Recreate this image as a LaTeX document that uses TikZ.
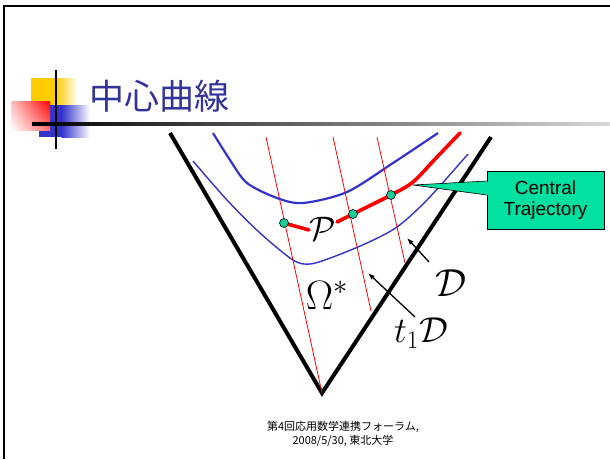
\RequirePackage{fix-cm}
\documentclass[tikz,border=0pt]{standalone}
\usepackage{amsmath,amssymb}
\usepackage{fontspec}
\setmainfont{Liberation Sans}
\newfontfamily\jpfont{Noto Sans CJK JP}
\usetikzlibrary{arrows.meta, positioning, calc, shadings}
\definecolor{titleblue}{HTML}{333399}
\definecolor{logoyellow}{HTML}{FFCC00}
\definecolor{logoblue}{HTML}{3333CC}
\definecolor{logored}{HTML}{FF0000}
\definecolor{levelblue}{HTML}{3333CC}
\definecolor{trajred}{HTML}{FF0000}
\definecolor{dotgreen}{HTML}{1ACC99}
\definecolor{calloutgreen}{HTML}{00E0A0}
\tikzset{
  >={Latex[length=2.4mm,width=1.8mm]},
  conewall/.style={line width=4pt, draw=black},
  levelset/.style={line width=2.2pt, draw=levelblue},
  levelsetthin/.style={line width=1.4pt, draw=levelblue},
  fibre/.style={line width=0.8pt, draw=trajred},
  trajectory/.style={line width=3.6pt, draw=trajred, line cap=round},
  pathdot/.style={circle, draw=black, line width=0.6pt, fill=dotgreen,
                  minimum size=9pt, inner sep=0pt},
  mathlbl/.style={inner sep=0pt, font=\fontsize{39}{39}\selectfont},
  pointer/.style={->, line width=1.3pt, draw=black},
  callout/.style={draw=black, line width=0.6pt, fill=calloutgreen, align=center,
                  font=\fontsize{19}{21}\selectfont, minimum width=117pt,
                  minimum height=58pt, inner sep=2pt},
  footer/.style={font=\jpfont\fontsize{11}{14}\selectfont, align=center},
}
\begin{document}
\begin{tikzpicture}[x=1pt, y=-1pt]
\useasboundingbox (0,0) rectangle (610,459);

% ---- slide frame ----
\draw[line width=2.5pt] (4,459) -- (4,6) -- (610,6);

% ---- title logo ----
\fill[logoyellow] (31,78) rectangle (56,106);
\shade[left color=logoyellow, right color=white] (55.5,78) rectangle (78,106);
\fill[logoblue] (39,105) rectangle (62,137);
\shade[left color=logoblue, right color=white] (61.5,105) rectangle (90,137);
\shade[lower left=white, upper left=logored!25, upper right=logored, lower right=logored!55]
      (11,101) rectangle (50,130);
\shade[left color=black, right color=black!15] (32,122.5) rectangle (610,125.5);
\draw[line width=2pt] (56,70) -- (56,149);
\node[anchor=west, inner sep=0pt, text=titleblue, font=\jpfont\fontsize{35}{35}\selectfont]
   (title) at (89,96) {中心曲線};

% ---- cone ----
\coordinate (apex) at (322,393);
\coordinate (wallL) at (170,133);
\coordinate (wallR) at (491,137);
\draw[conewall] (wallL) -- (apex) -- (wallR);

% ---- level curves ----
\draw[levelset] plot[smooth] coordinates
   {(213,133) (230,160) (247,183) (277,198) (303,203) (347,192) (393,163) (438,133)};
\draw[levelsetthin] plot[smooth] coordinates
   {(193,161) (227,200) (260,233) (293,260) (310,264) (333,257) (367,243) (397,227)
    (427,200) (468,154)};

% ---- fibres ----
\coordinate (f1top) at (266,137);
\coordinate (f2top) at (333,137);
\coordinate (f2end) at (371,311);
\coordinate (f3top) at (377,137);
\coordinate (f3end) at (405,263);
\draw[fibre] (f1top) -- (apex);
\draw[fibre] (f2top) -- (f2end);
\draw[fibre] (f3top) -- (f3end);

% ---- central trajectory ----
\node[mathlbl, font=\fontsize{34}{34}\selectfont] (P) at (323,229) {$\mathcal{P}$};
\coordinate (d1) at (284,223);
\coordinate (d2) at (353,214);
\coordinate (d3) at (391,195);
\coordinate (pin) at (309,230);
\coordinate (pout) at (337,222);
\coordinate (tend) at (460,133);
\draw[trajectory] (d1) -- (pin);
\draw[trajectory] plot[smooth] coordinates {(pout) (d2) (d3) (413,182) (437,157) (tend)};
\node[pathdot] (dot1) at (d1) {};
\node[pathdot] (dot2) at (d2) {};
\node[pathdot] (dot3) at (d3) {};

% ---- region labels ----
\node[mathlbl, font=\fontsize{41}{41}\selectfont] (omega) at (327,295) {$\Omega^*$};
\node[mathlbl] (dom) at (451,283) {$\mathcal{D}$};
\node[mathlbl, font=\fontsize{36}{36}\selectfont] (tdom) at (421,333) {$t_1\mathcal{D}$};
\coordinate (domtail) at (429,262);
\coordinate (domtip) at (407,238);
\coordinate (tdomtail) at (415,317);
\coordinate (tdomtip) at (368,273);
\draw[pointer] (domtail) -- (domtip);
\draw[pointer] (tdomtail) -- (tdomtip);

% ---- callout ----
\node[callout] (ctraj) at (545.5,200) {Central\\Trajectory};
\coordinate (ctip) at (413,185);
\fill[calloutgreen] (ctip) -- ($(ctraj.west)+(0,-19)$) -- ($(ctraj.west)+(0,-5)$) -- cycle;
\draw[line width=0.6pt] ($(ctraj.west)+(0,-19)$) -- (ctip) -- ($(ctraj.west)+(0,-5)$);
\fill[calloutgreen] ($(ctraj.west)+(-0.5,-18.5)$) rectangle ($(ctraj.west)+(0.8,-5.5)$);

% ---- footer ----
\node[footer] (foot) at (343,434) {第4回応用数学連携フォーラム,\\2008/5/30, 東北大学};

\end{tikzpicture}
\end{document}
